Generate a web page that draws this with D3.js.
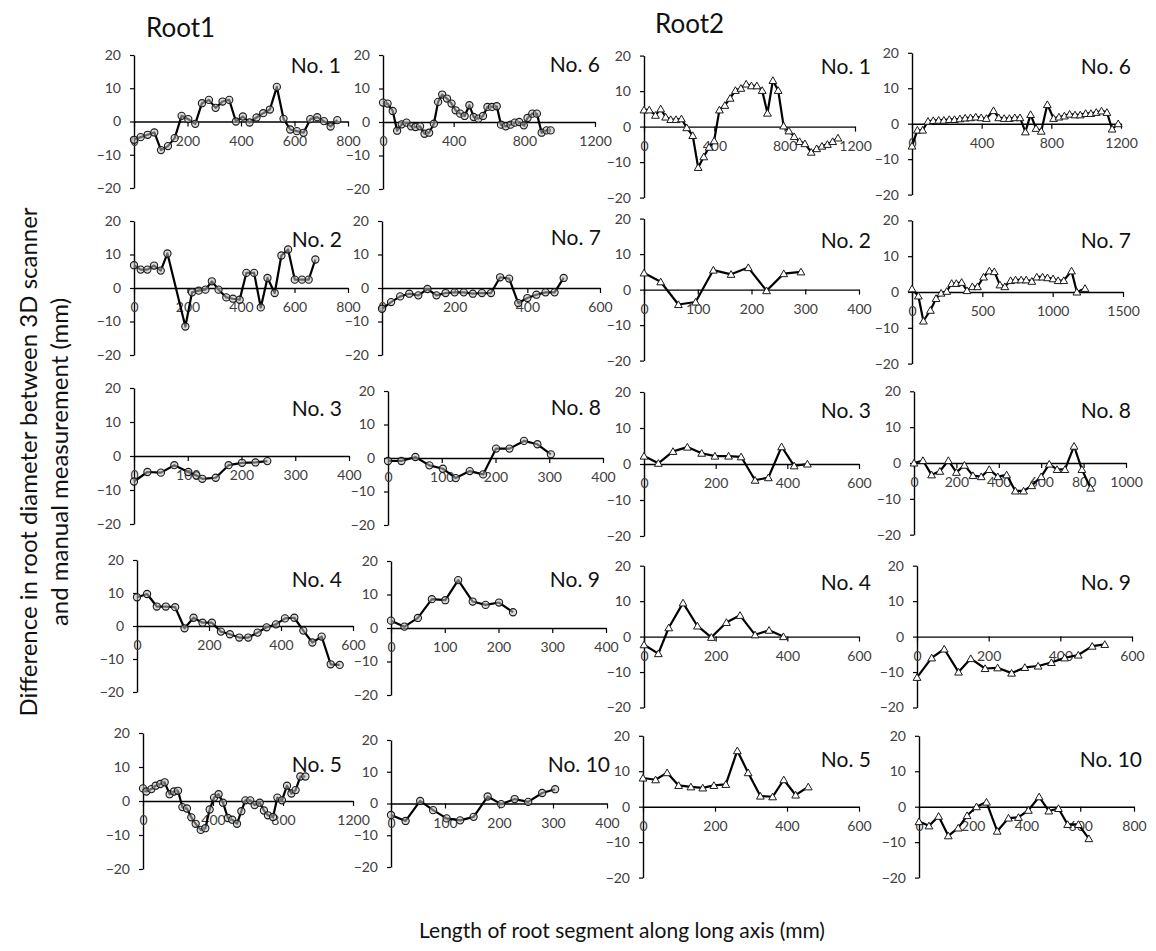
<!DOCTYPE html>
<html>
<head>
<meta charset="utf-8">
<script src="https://cdn.jsdelivr.net/npm/d3@7"></script>
<style>
  body { margin: 0; background: #fff; }
  svg { display: block; }
  text { font-family: Lato, "Open Sans", sans-serif; }
</style>
</head>
<body>
<svg id="chart" width="1156" height="951"></svg>
<script>
"use strict";

var yTicks = [-20, -10, 0, 10, 20];
var ticks400 = [0, 100, 200, 300, 400];
var ticks600 = [0, 200, 400, 600];
var ticks800 = [0, 200, 400, 600, 800];
var ticks1000 = [0, 200, 400, 600, 800, 1000];
var ticks1200 = [0, 400, 800, 1200];
var ticks1500 = [0, 500, 1000, 1500];

// [length along axis (mm), difference (mm)]
var root1No1 = [[0,-5.5],[25,-4.7],[51,-4.0],[76,-3.3],[101,-8.6],[127,-7.4],[152,-5.0],[178,1.7],[203,0.7],[229,-0.7],[254,5.5],[280,6.5],[305,4.1],[331,6.0],[356,6.5],[381,0],[407,1.5],[432,-0.3],[458,1.2],[483,2.5],[508,3.6],[534,10.4],[559,0.8],[584,-2.4],[609,-2.9],[634,-3.4],[659,0.7],[685,1.3],[710,0.1],[735,-1.5],[760,0.4]];
var root1No2 = [[0,6.8],[25,5.5],[50,5.5],[75,6.7],[100,5.2],[125,10.3],[192,-11.5],[217,-1.3],[242,-0.8],[267,-0.5],[291,2],[316,-0.5],[345,-2.8],[370,-3.2],[395,-3.5],[420,4.5],[449,4.5],[474,-5.8],[499,3],[526,-1.5],[551,9.7],[576,11.5],[601,2.5],[628,2.5],[653,2.5],[678,8.5]];
var root1No3 = [[0,-7.5],[25,-4.7],[50,-4.9],[75,-2.7],[101,-4.7],[116,-5.7],[127,-6.7],[152,-6.4],[176,-2.7],[201,-2],[226,-1.9],[248,-1.5]];
var root1No4 = [[0,8.7],[28,9.7],[55,5.9],[80,5.9],[106,5.7],[132,-0.7],[157,2.5],[182,1],[208,1],[233,-1.7],[258,-2.5],[284,-3.5],[309,-3.5],[335,-2],[360,-0.4],[386,0.5],[411,2.3],[437,2.5],[462,-1.4],[487,-5],[513,-3.2],[538,-11.6],[563,-11.8]];
var root1No5 = [[0,3.7],[19,2.8],[48,3.5],[72,4.5],[99,5],[124,5.5],[152,2],[177,2.8],[200,3],[225,-1.8],[251,-2.2],[276,-4.8],[301,-6.7],[330,-8.5],[356,-8],[381,-2.5],[406,1],[432,2],[457,-0.5],[485,-5],[510,-5.5],[537,-6.7],[562,-3],[585,0.2],[613,0.2],[638,-1.2],[667,-0.5],[691,-2.8],[714,-4.2],[743,-4.7],[768,1],[794,0.2],[823,4.5],[848,2.2],[872,3.2],[899,7.2],[928,7.2]];
var root1No6 = [[0,5.8],[26,5.5],[55,3.3],[80,-2.6],[106,-0.7],[133,-0.2],[159,-1.3],[184,-1.5],[210,-1.3],[235,-3.5],[261,-3.2],[288,-0.5],[312,6],[335,8.2],[362,7],[388,5.5],[411,3.5],[437,2.5],[462,1.8],[489,5],[513,1.5],[540,1],[566,1.8],[591,4.5],[617,4.5],[644,4.7],[668,-0.8],[695,-1.3],[722,-0.8],[746,-0.2],[771,0],[797,-1],[818,1.2],[845,2.5],[871,2.5],[898,-3.2],[926,-2.5],[949,-2.5]];
var root1No7 = [[0,-6.2],[25,-4.2],[50,-2.5],[75,-1.7],[100,-2.2],[125,-0.3],[150,-2.2],[175,-1.5],[200,-1.3],[225,-1.3],[250,-1.7],[275,-1.5],[300,-1.5],[325,3.2],[350,2.8],[375,-4.5],[400,-3],[425,-2],[450,-1.3],[475,-1.3],[500,3]];
var root1No8 = [[0,-0.9],[25,-0.9],[51,0.3],[77,-2.2],[102,-3.2],[126,-6],[152,-3.9],[177,-4.9],[201,2.8],[226,2.8],[253,5.1],[278,4.1],[303,1.1]];
var root1No9 = [[0,2.2],[25,0.4],[50,3],[76,8.6],[101,8.3],[125,14.3],[152,7.9],[176,6.9],[201,7.6],[227,4.7]];
var root1No10 = [[0,-3.6],[27,-5.5],[54,0.8],[78,-2.1],[103,-4.7],[128,-5.3],[153,-4.2],[179,2.2],[204,-0.2],[229,1.4],[254,0.5],[280,3.3],[304,4.5]];

var root2No1 = [[0,4.7],[30,4.7],[65,3.2],[95,5],[123,2.7],[152,2],[182,2],[213,2.2],[243,-0.3],[277,-2.5],[308,-11.5],[340,-8.5],[370,-5.8],[399,-4],[429,4.7],[460,6],[490,8],[520,10.2],[551,10.8],[581,12],[611,11.5],[642,11.5],[672,10.2],[702,3.8],[733,13],[763,10.2],[794,0.2],[824,-1.2],[854,-2.8],[885,-4.2],[915,-4.8],[951,-7.2],[982,-6.2],[1012,-5.5],[1043,-5],[1073,-4.2],[1103,-3.2]];
var root2No2 = [[0,4.7],[31,2.2],[64,-4.2],[96,-3.5],[129,5.5],[162,4.3],[194,6.2],[228,-0.3],[260,4.5],[292,5]];
var root2No3 = [[0,2.2],[40,0.2],[81,3.5],[121,4.7],[161,3],[198,2.2],[236,2.2],[271,2],[310,-4.5],[347,-3.8],[384,4.8],[419,-0.5],[456,0]];
var root2No4 = [[0,-2.3],[40,-4.8],[69,2.5],[109,9.5],[149,3],[188,-0.2],[230,4],[268,6],[310,0.5],[349,1.8],[389,0]];
var root2No5 = [[0,8.1],[35,7.6],[67,9.6],[99,6],[133,5.6],[166,5.3],[197,6],[230,6.3],[262,15.8],[292,9.6],[326,3],[360,2.8],[391,7.6],[424,3.3],[459,5.6]];
var root2No6 = [[0,-6.3],[31,-1.8],[61,-1.8],[92,0.7],[122,0.9],[153,1],[183,1],[214,1.2],[244,1.2],[275,1.4],[305,1.6],[336,1.7],[366,1.9],[397,1.7],[427,1.5],[468,3.7],[498,1.7],[529,1.5],[559,1.5],[590,1.7],[620,1.7],[651,-2.3],[681,2.6],[712,-1.3],[742,-2.1],[777,5.4],[813,1.5],[844,1.9],[875,2.2],[905,2.7],[936,2.5],[966,2.5],[997,2.9],[1027,2.9],[1058,3.2],[1088,3.6],[1119,3.2],[1149,-1.5],[1184,0]];
var root2No7 = [[0,0.9],[45,-1.1],[81,-8.1],[131,-5.1],[171,-1.8],[207,-0.3],[247,0.2],[282,2.4],[315,2.4],[353,2.7],[391,0.4],[429,1.5],[466,1.5],[509,4.2],[550,5.9],[585,5.7],[625,2],[660,1.5],[701,3.2],[736,3.4],[776,3.4],[812,3.4],[852,3],[887,4.2],[928,4.2],[963,4],[1003,3.7],[1039,3.2],[1079,3.2],[1134,5.9],[1172,0],[1230,1]];
var root2No8 = [[0,0],[42,0.7],[83,-3.3],[122,-2.3],[162,0.7],[200,-2.6],[238,-0.6],[278,-3.5],[317,-3.8],[355,-1.8],[395,-3.8],[437,-3.3],[478,-7.8],[517,-7.8],[555,-6.3],[600,-3.8],[638,-0.3],[675,-1.8],[712,-1.8],[755,4.7],[792,-1.8],[833,-7]];
var root2No9 = [[0,-11.5],[41,-6],[76,-3.5],[116,-10],[150,-6.2],[190,-9],[225,-8.8],[264,-10.3],[301,-8.7],[338,-8.3],[375,-7.3],[412,-6],[450,-5.2],[489,-2.7],[524,-2.2]];
var root2No10 = [[0,-4.2],[37,-5.4],[73,-2.7],[109,-8.2],[146,-6],[179,-2.5],[214,0],[251,1.3],[291,-6.9],[333,-3.2],[370,-3],[407,-1],[447,2.8],[483,-1.2],[519,-0.5],[553,-5],[593,-5],[632,-9]];

// box: [x of 0, x of last tick, y of 20, y of 0]; tag: [right edge, baseline] of the "No." label
var panels = [
  { label: "No. 1", series: root1No1, ticks: ticks800, marker: "circle", box: [134, 348, 55, 121.5], tag: [341, 73] },
  { label: "No. 2", series: root1No2, ticks: ticks800, marker: "circle", box: [134, 348, 221, 288], tag: [342, 247] },
  { label: "No. 3", series: root1No3, ticks: ticks400, marker: "circle", box: [134, 349, 388, 456], tag: [342, 416] },
  { label: "No. 4", series: root1No4, ticks: ticks600, marker: "circle", box: [137, 353, 560, 626], tag: [342, 587] },
  { label: "No. 5", series: root1No5, ticks: ticks1200, marker: "circle", box: [143, 353, 733, 801], tag: [342, 772] },
  { label: "No. 6", series: root1No6, ticks: ticks1200, marker: "circle", box: [383, 595, 55, 122], tag: [600, 72] },
  { label: "No. 7", series: root1No7, ticks: ticks600, marker: "circle", box: [382, 600, 221, 288], tag: [601, 245] },
  { label: "No. 8", series: root1No8, ticks: ticks400, marker: "circle", box: [388, 603, 391, 458], tag: [601, 415] },
  { label: "No. 9", series: root1No9, ticks: ticks400, marker: "circle", box: [391, 606, 561, 628], tag: [600, 587] },
  { label: "No. 10", series: root1No10, ticks: ticks400, marker: "circle", box: [391, 607, 740, 803.5], tag: [610, 772] },
  { label: "No. 1", series: root2No1, ticks: ticks1200, marker: "triangle", box: [644, 855, 55.6, 126.6], tag: [871, 74] },
  { label: "No. 2", series: root2No2, ticks: ticks400, marker: "triangle", box: [644, 859, 218.6, 289.6], tag: [871, 248] },
  { label: "No. 3", series: root2No3, ticks: ticks600, marker: "triangle", box: [644, 859, 392, 464], tag: [871, 418] },
  { label: "No. 4", series: root2No4, ticks: ticks600, marker: "triangle", box: [644, 859, 565.7, 636.6], tag: [871, 590] },
  { label: "No. 5", series: root2No5, ticks: ticks600, marker: "triangle", box: [643, 859, 735.8, 806.7], tag: [871, 767] },
  { label: "No. 6", series: root2No6, ticks: ticks1200, marker: "triangle", box: [912, 1121, 52.8, 123.7], tag: [1131, 74] },
  { label: "No. 7", series: root2No7, ticks: ticks1500, marker: "triangle", box: [912, 1123, 220.4, 292], tag: [1131, 248] },
  { label: "No. 8", series: root2No8, ticks: ticks1000, marker: "triangle", box: [914, 1126, 391.3, 463], tag: [1131, 418] },
  { label: "No. 9", series: root2No9, ticks: ticks600, marker: "triangle", box: [917, 1132, 565.7, 636.6], tag: [1131, 590] },
  { label: "No. 10", series: root2No10, ticks: ticks800, marker: "triangle", box: [919, 1134, 735.8, 806.7], tag: [1142, 767] }
];

var svg = d3.select("#chart");

function styleAxis(sel) {
  sel.select(".domain").attr("stroke", "#000").attr("stroke-width", 1.4);
  sel.selectAll(".tick line").attr("stroke", "#000").attr("stroke-width", 1.2);
  sel.selectAll(".tick text").attr("fill", "#404040").style("font-size", "14px");
}

panels.forEach(function (p) {
  var b = p.box;
  var x = d3.scaleLinear().domain([0, p.ticks[p.ticks.length - 1]]).range([b[0], b[1]]);
  var y = d3.scaleLinear().domain([-20, 20]).range([2 * b[3] - b[2], b[2]]);
  var g = svg.append("g");

  g.append("g")
    .attr("transform", "translate(" + b[0] + ",0)")
    .call(d3.axisLeft(y).tickValues(yTicks).tickSize(4).tickPadding(9).tickSizeOuter(0))
    .call(styleAxis);

  g.append("g")
    .attr("transform", "translate(0," + y(0) + ")")
    .call(d3.axisBottom(x).tickValues(p.ticks).tickSize(5).tickPadding(9.5).tickSizeOuter(0).tickFormat(d3.format("d")))
    .call(styleAxis);

  g.append("path")
    .datum(p.series)
    .attr("fill", "none")
    .attr("stroke", "#000")
    .attr("stroke-width", 2.2)
    .attr("stroke-linejoin", "round")
    .attr("d", d3.line().x(function (d) { return x(d[0]); }).y(function (d) { return y(d[1]); }));

  if (p.marker === "circle") {
    g.selectAll("circle.pt")
      .data(p.series)
      .enter()
      .append("circle")
      .attr("class", "pt")
      .attr("cx", function (d) { return x(d[0]); })
      .attr("cy", function (d) { return y(d[1]); })
      .attr("r", 3.6)
      .attr("fill", "rgba(190,190,190,0.55)")
      .attr("stroke", "#1a1a1a")
      .attr("stroke-width", 1.1);
  } else {
    g.selectAll("path.pt")
      .data(p.series)
      .enter()
      .append("path")
      .attr("class", "pt")
      .attr("transform", function (d) { return "translate(" + x(d[0]) + "," + (y(d[1]) + 0.8) + ")"; })
      .attr("d", d3.symbol().type(d3.symbolTriangle).size(26))
      .attr("fill", "#fff")
      .attr("stroke", "#1a1a1a")
      .attr("stroke-width", 1);
  }

  g.append("text")
    .attr("x", p.tag[0])
    .attr("y", p.tag[1])
    .attr("text-anchor", "end")
    .attr("fill", "#111")
    .style("font-size", "21px")
    .text(p.label);
});

svg.append("text").attr("x", 146).attr("y", 37).style("font-size", "26px").attr("fill", "#111").text("Root1");
svg.append("text").attr("x", 655).attr("y", 33).style("font-size", "26px").attr("fill", "#111").text("Root2");

var yTitle = svg.append("text")
  .attr("transform", "translate(0,462) rotate(-90)")
  .attr("text-anchor", "middle")
  .attr("fill", "#111")
  .style("font-size", "24px");
yTitle.append("tspan").attr("x", 0).attr("y", 37).text("Difference in root diameter between 3D scanner");
yTitle.append("tspan").attr("x", 0).attr("y", 68).text("and manual measurement (mm)");

svg.append("text")
  .attr("x", 622)
  .attr("y", 938)
  .attr("text-anchor", "middle")
  .attr("fill", "#111")
  .style("font-size", "21px")
  .text("Length of root segment along long axis (mm)");
</script>
</body>
</html>
